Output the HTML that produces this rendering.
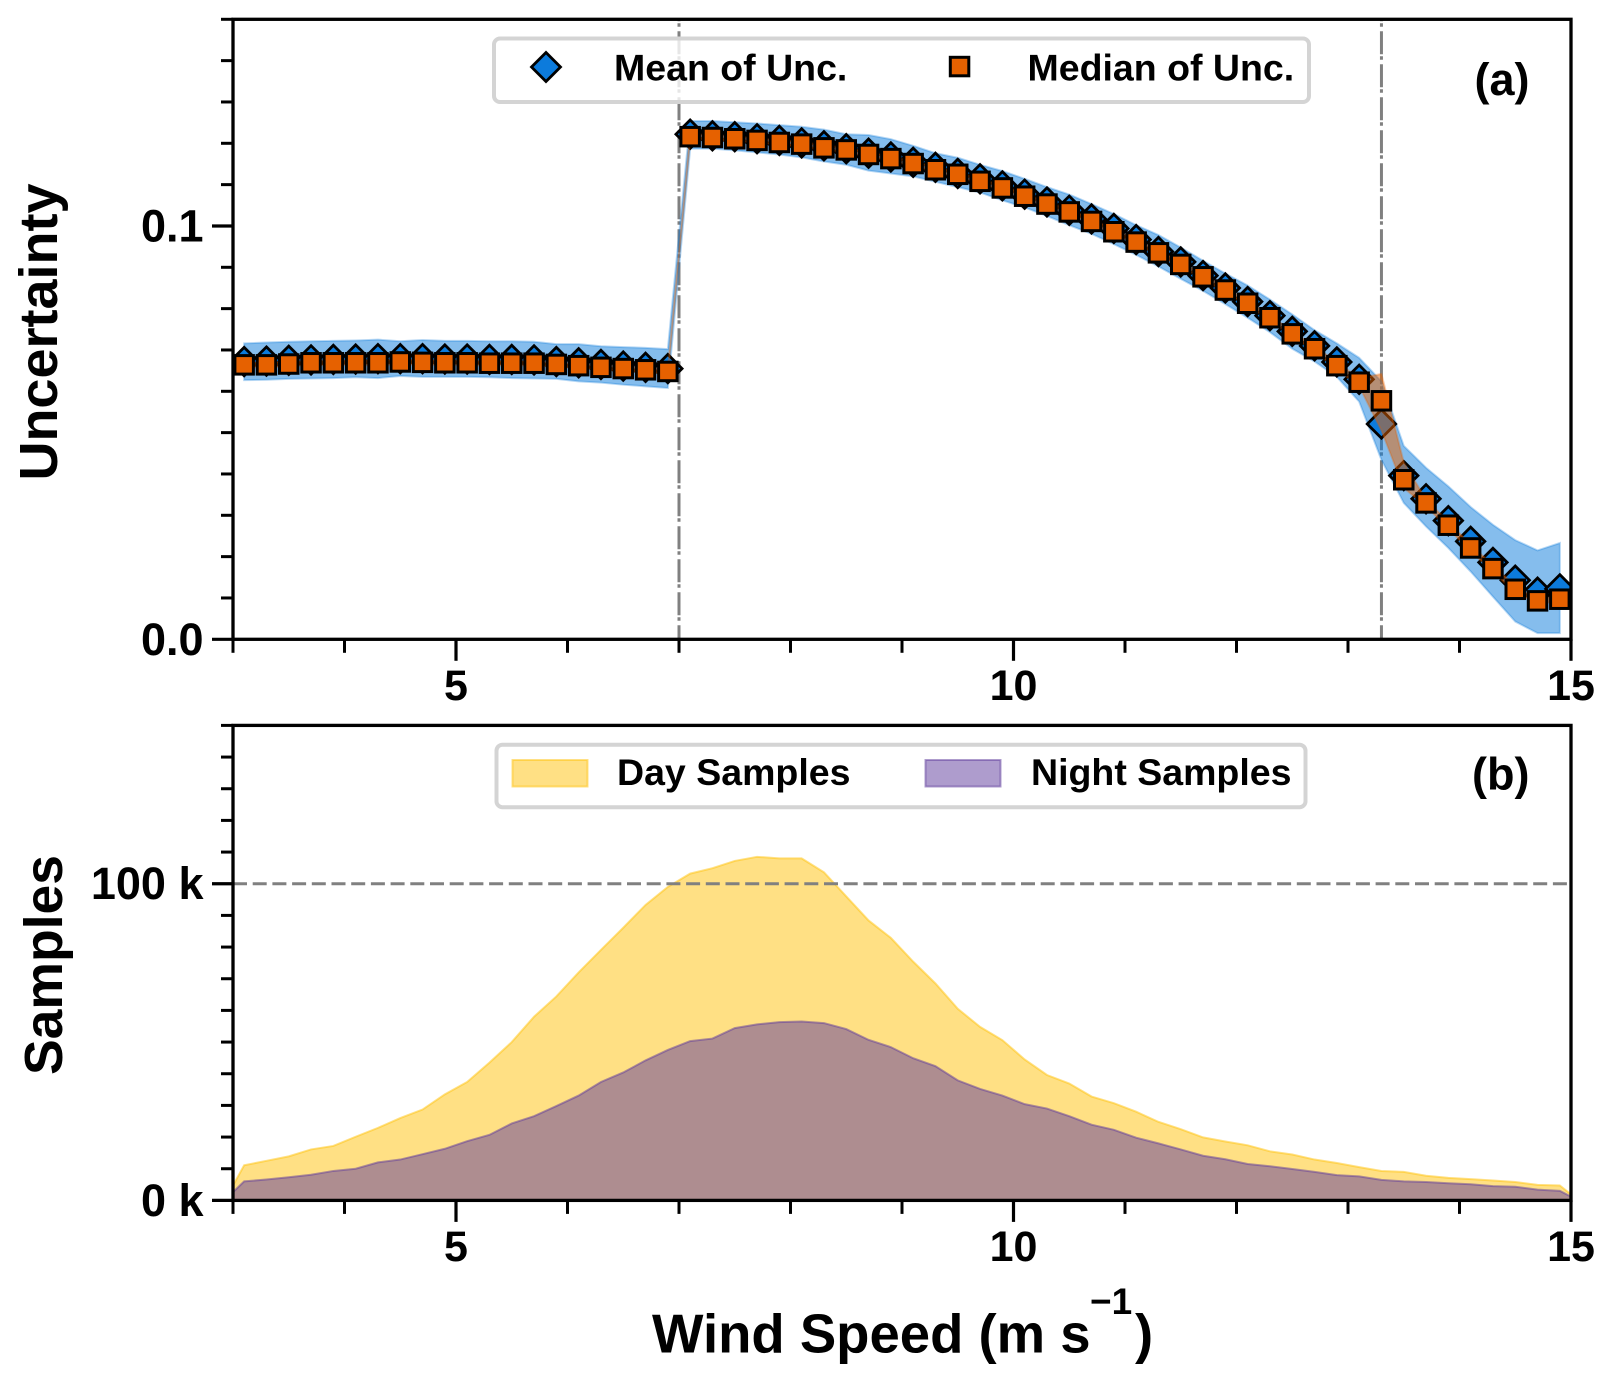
<!DOCTYPE html>
<html lang="en">
<head>
<meta charset="utf-8">
<title>Uncertainty and samples versus wind speed</title>
<style>
html,body{margin:0;padding:0;background:#fff;}
svg{display:block;font-family:"Liberation Sans",Arial,sans-serif;font-weight:bold;fill:#000;}
</style>
</head>
<body>
<svg id="fig" xmlns="http://www.w3.org/2000/svg" width="1613" height="1383" viewBox="0 0 1613 1383">
  <defs>
    <clipPath id="clipA"><rect x="233" y="19.3" width="1338" height="620"/></clipPath>
    <clipPath id="clipB"><rect x="233" y="725.4" width="1338" height="475"/></clipPath>
  </defs>
  <rect x="0" y="0" width="1613" height="1383" fill="#fff"/>

  <g>
    <g id="a-plot" clip-path="url(#clipA)"></g>
    <g>
      <rect x="494" y="38.5" width="815" height="63.5" rx="6" fill="#fff" fill-opacity="0.8" stroke="#d4d4d4" stroke-width="4"/>
      <path d="M546 52.5L560.5 67L546 81.5L531.5 67Z" fill="#0c7bdc" stroke="#000" stroke-width="2.8"/>
      <text x="614" y="80.5" font-size="37.5">Mean of Unc.</text>
      <rect x="950.3" y="57.3" width="18.5" height="18.5" fill="#e66100" stroke="#000" stroke-width="3"/>
      <text x="1027.5" y="80.5" font-size="37.5">Median of Unc.</text>
    </g>
    <text x="1529.5" y="95" font-size="45" text-anchor="end">(a)</text>
    <g id="a-axes"></g>
    <text transform="translate(57 332) rotate(-90)" text-anchor="middle" font-size="54">Uncertainty</text>
  </g>

  <g>
    <g id="b-plot" clip-path="url(#clipB)"></g>
    <g>
      <rect x="496.5" y="744.7" width="809" height="62.5" rx="6" fill="#fff" fill-opacity="0.8" stroke="#d4d4d4" stroke-width="4"/>
      <rect x="512.5" y="760" width="75" height="26.5" fill="#ffc20a" fill-opacity="0.5" stroke="#ffc20a" stroke-opacity="0.5" stroke-width="2"/>
      <text x="617" y="785" font-size="37.5">Day Samples</text>
      <rect x="925.5" y="760" width="75" height="26.5" fill="#5d3a9b" fill-opacity="0.5" stroke="#5d3a9b" stroke-opacity="0.5" stroke-width="2"/>
      <text x="1031" y="785" font-size="37.5">Night Samples</text>
    </g>
    <text x="1529.5" y="789.5" font-size="45" text-anchor="end">(b)</text>
    <g id="b-axes"></g>
    <text transform="translate(62 965) rotate(-90)" text-anchor="middle" font-size="53.5">Samples</text>
  </g>

  <g>
    <text x="652" y="1352.5" font-size="54.5">Wind Speed (m s</text>
    <text x="1090" y="1314" font-size="37">−1</text>
    <text x="1135" y="1352.5" font-size="54.5">)</text>
  </g>
</svg>

<script>
// ---------- Panel (a) data ----------
const uncWindSpeed = [3.1,3.3,3.5,3.7,3.9,4.1,4.3,4.5,4.7,4.9,5.1,5.3,5.5,5.7,5.9,6.1,6.3,6.5,6.7,6.9,
  7.1,7.3,7.5,7.7,7.9,8.1,8.3,8.5,8.7,8.9,9.1,9.3,9.5,9.7,9.9,10.1,10.3,10.5,10.7,10.9,11.1,11.3,11.5,11.7,11.9,12.1,12.3,12.5,12.7,12.9,13.1,
  13.3,13.5,13.7,13.9,14.1,14.3,14.5,14.7,14.9];
const meanUnc = [.0672,.0673,.0675,.0676,.0677,.0678,.0679,.0679,.0679,.0678,.0678,.0677,.0677,.0676,.0672,.0669,.0665,.0661,.0658,.0655,
  .1222,.1218,.1216,.1211,.1207,.1201,.1194,.1187,.1176,.1167,.1154,.1142,.1127,.1114,.1097,.1077,.1058,.1038,.1017,.0994,.0967,.0938,.0913,.0880,.0850,.0817,.0783,.0745,.0710,.0671,.0629,
  .0521,.0396,.0340,.0287,.0237,.0186,.0143,.0114,.0122];
const meanUpper = [.0716,.0718,.0720,.0721,.0722,.0723,.0725,.0721,.0724,.0722,.0722,.0721,.0721,.0720,.0714,.0714,.0709,.0707,.0705,.0702,
  .1254,.1254,.1251,.1248,.1244,.1240,.1233,.1222,.1220,.1210,.1194,.1176,.1165,.1148,.1133,.1114,.1094,.1076,.1053,.1029,.1002,.0978,.0948,.0916,.0885,.0856,.0822,.0786,.0748,.0716,.0681,
  .0624,.0468,.0415,.0370,.0320,.0277,.0240,.0215,.0233];
const meanLower = [.0627,.0628,.0630,.0631,.0632,.0634,.0632,.0637,.0635,.0635,.0635,.0634,.0632,.0631,.0630,.0624,.0621,.0616,.0612,.0608,
  .1187,.1187,.1183,.1178,.1173,.1166,.1156,.1148,.1134,.1127,.1120,.1107,.1094,.1081,.1062,.1045,.1024,.1002,.0981,.0956,.0930,.0902,.0872,.0843,.0811,.0778,.0743,.0703,.0672,.0635,.0575,
  .0434,.0330,.0273,.0221,.0164,.0103,.0043,.0015,.0015];
const medianUnc = [.0664,.0664,.0666,.0669,.0669,.0669,.0669,.0671,.0670,.0669,.0669,.0668,.0668,.0668,.0665,.0662,.0658,.0655,.0652,.0648,
  .1216,.1214,.1211,.1207,.1202,.1198,.1189,.1184,.1173,.1163,.1151,.1136,.1125,.1108,.1092,.1072,.1053,.1034,.1011,.0986,.0961,.0935,.0907,.0877,.0845,.0813,.0778,.0739,.0703,.0662,.0622,
  .0577,.0386,.0330,.0276,.0221,.0171,.0121,.0093,.0097];
const medianUpper = [.0670,.0670,.0672,.0675,.0675,.0675,.0675,.0677,.0676,.0675,.0675,.0674,.0674,.0674,.0671,.0668,.0664,.0661,.0658,.0654,
  .1222,.1220,.1217,.1213,.1208,.1204,.1195,.1190,.1179,.1169,.1157,.1142,.1131,.1114,.1098,.1078,.1059,.1040,.1017,.0992,.0967,.0941,.0913,.0883,.0851,.0819,.0784,.0745,.0709,.0670,.0632,
  .0642,.0428,.0338,.0284,.0229,.0179,.0129,.0099,.0103];
const medianLower = [.0658,.0658,.0660,.0663,.0663,.0663,.0663,.0665,.0664,.0663,.0663,.0662,.0662,.0662,.0659,.0656,.0652,.0649,.0646,.0642,
  .1210,.1208,.1205,.1201,.1196,.1192,.1183,.1178,.1167,.1157,.1145,.1130,.1119,.1102,.1086,.1066,.1047,.1028,.1005,.0980,.0955,.0929,.0901,.0871,.0839,.0807,.0772,.0733,.0697,.0654,.0612,
  .0505,.0366,.0322,.0268,.0213,.0163,.0113,.0087,.0091];
const regimeBoundaries = [7, 13.3];

// ---------- Panel (b) data ----------
const sampleWindSpeed = [3,3.1,3.3,3.5,3.7,3.9,4.1,4.3,4.5,4.7,4.9,5.1,5.3,5.5,5.7,5.9,6.1,6.3,6.5,6.7,6.9,
  7.1,7.3,7.5,7.7,7.9,8.1,8.3,8.5,8.7,8.9,9.1,9.3,9.5,9.7,9.9,10.1,10.3,10.5,10.7,10.9,11.1,11.3,11.5,11.7,11.9,12.1,12.3,12.5,12.7,12.9,13.1,
  13.3,13.5,13.7,13.9,14.1,14.3,14.5,14.7,14.9,15];
const daySamples = [4.7,11.1,12.5,13.9,16.1,17.2,20.1,22.9,26,28.7,33.5,37.4,43.5,50,58,64.4,72,79.1,86.1,93.3,99,
  103.2,104.9,107.2,108.5,108,108,103.6,96,88.4,82.9,75.4,68.5,60.5,54.8,50.6,44.5,39.6,36.9,32.8,30.7,28,24.8,22.5,19.9,18.6,17.4,15.5,14.5,12.9,11.8,10.5,
  9.3,9,7.8,7.1,6.7,6.3,5.8,4.9,4.7,1.9];
const nightSamples = [2.6,6,6.6,7.3,8.1,9.3,10,12,12.9,14.6,16.3,18.7,20.7,24.3,26.6,29.8,33.1,37.4,40.4,44.2,47.5,
  50.3,51.1,54.4,55.6,56.3,56.5,56,54.1,50.7,48.4,44.9,42.4,37.9,35.2,33.1,30.4,29,26.6,23.9,22.3,19.8,18,16.1,14.1,13,11.5,10.8,9.9,9,8,7.6,
  6.5,6,5.8,5.4,5.1,4.5,4.3,3.4,3,1.2];
const referenceSamples = [100];

// ---------- Tick data ----------
const xMajorTicks = [5,10,15];
const xMinorTicks = [3,4,6,7,8,9,11,12,13,14];
const xTickLabels = ['5','10','15'];
const uncMajorTicks = [0,0.1];
const uncTickLabels = ['0.0','0.1'];
const uncMinorTicks = [.01,.02,.03,.04,.05,.06,.07,.08,.09,.11,.12,.13,.14,.15];
const sampleMajorTicks = [0,100];
const sampleTickLabels = ['0 k','100 k'];
const sampleMinorTicks = [10,20,30,40,50,60,70,80,90,110,120,130,140,150];

// ---------- Axis functions ----------
const X_LEFT = 233, X_RIGHT = 1571;
const A_TOP = 19.3, A_BOTTOM = 639.3;
const B_TOP = 725.4, B_BOTTOM = 1200.4;
function xScale(v){ return X_LEFT + (v - 3) / 12 * (X_RIGHT - X_LEFT); }
function yUnc(v){ return A_BOTTOM - v / 0.15 * (A_BOTTOM - A_TOP); }
function ySamples(v){ return B_BOTTOM - v / 150 * (B_BOTTOM - B_TOP); }

const NS = 'http://www.w3.org/2000/svg';
function make(tag, attrs, parent){
  const el = document.createElementNS(NS, tag);
  for (const k in attrs) el.setAttribute(k, attrs[k]);
  parent.appendChild(el);
  return el;
}
function bandPath(xs, top, bottom, yf){
  let d = '';
  xs.forEach((x,i)=>{ d += (i ? 'L' : 'M') + xScale(x).toFixed(2) + ' ' + yf(top[i]).toFixed(2); });
  for (let i = xs.length - 1; i >= 0; i--) d += 'L' + xScale(xs[i]).toFixed(2) + ' ' + yf(bottom[i]).toFixed(2);
  return d + 'Z';
}
function tickMark(parent, x1, y1, x2, y2, width){
  return make('line', {x1:x1, y1:y1, x2:x2, y2:y2, stroke:'#000', 'stroke-width':width}, parent);
}

// ---------- Panel (a) ----------
const aPlot = document.getElementById('a-plot');
regimeBoundaries.forEach(b=>{
  const l = make('line', {x1:xScale(b), x2:xScale(b), y1:A_BOTTOM, y2:A_TOP, stroke:'#808080', 'stroke-width':3, 'stroke-dasharray':'23 4.5 3.5 2', 'stroke-dashoffset':'9'}, aPlot);
  
  
});
const meanBand = make('path', {d:bandPath(uncWindSpeed, meanUpper, meanLower, yUnc), fill:'#0c7bdc', 'fill-opacity':.5, stroke:'#0c7bdc', 'stroke-opacity':.3, 'stroke-width':2}, aPlot);


uncWindSpeed.forEach((x,i)=>{
  const cx = xScale(x), cy = yUnc(meanUnc[i]), h = 14.2;
  const p = make('path', {d:`M${cx} ${cy-h}L${cx+h} ${cy}L${cx} ${cy+h}L${cx-h} ${cy}Z`, fill:'#0c7bdc', stroke:'#000', 'stroke-width':2.8}, aPlot);
  
  
});
const medianBand = make('path', {d:bandPath(uncWindSpeed, medianUpper, medianLower, yUnc), fill:'#e66100', 'fill-opacity':.5, stroke:'#e66100', 'stroke-opacity':.3, 'stroke-width':2}, aPlot);


uncWindSpeed.forEach((x,i)=>{
  const cx = xScale(x), cy = yUnc(medianUnc[i]), s = 18.5;
  const r = make('rect', {x:cx-s/2, y:cy-s/2, width:s, height:s, fill:'#e66100', stroke:'#000', 'stroke-width':3}, aPlot);
  
  
});

// ---------- Panel (b) ----------
const bPlot = document.getElementById('b-plot');
const zeroSamples = sampleWindSpeed.map(()=>0);
const dayArea = make('path', {d:bandPath(sampleWindSpeed, daySamples, zeroSamples, ySamples), fill:'#ffc20a', 'fill-opacity':.5, stroke:'#ffc20a', 'stroke-opacity':.5, 'stroke-width':2}, bPlot);


const nightArea = make('path', {d:bandPath(sampleWindSpeed, nightSamples, zeroSamples, ySamples), fill:'#5d3a9b', 'fill-opacity':.5, stroke:'#5d3a9b', 'stroke-opacity':.5, 'stroke-width':2}, bPlot);


referenceSamples.forEach(v=>{
  const l = make('line', {x1:X_LEFT, x2:X_RIGHT, y1:ySamples(v), y2:ySamples(v), stroke:'#808080', 'stroke-width':3, 'stroke-dasharray':'14 5.7'}, bPlot);
  
  
});

// ---------- Axes ----------
function drawAxes(group, top, bottom, yf, yMajor, yLabels, yMinor, panel){
  xMinorTicks.forEach(v=>{
    const t = tickMark(group, xScale(v), bottom, xScale(v), bottom + 13.5, 3);
    
    
  });
  xMajorTicks.forEach((v,i)=>{
    const t = tickMark(group, xScale(v), bottom, xScale(v), bottom + 21.5, 3.2);
    
    
    const lab = make('text', {x:xScale(v), y:bottom + 60.5, 'text-anchor':'middle', 'font-size':43}, group);
    lab.textContent = xTickLabels[i];
    
    
  });
  yMinor.forEach(v=>{
    const t = tickMark(group, X_LEFT, yf(v), X_LEFT - 12, yf(v), 3);
    
    
  });
  yMajor.forEach((v,i)=>{
    const t = tickMark(group, X_LEFT, yf(v), X_LEFT - 21, yf(v), 3.2);
    
    
    const lab = make('text', {x:203.5, y:yf(v) + 15.5, 'text-anchor':'end', 'font-size':45}, group);
    lab.textContent = yLabels[i];
    
    
  });
  const frame = make('rect', {x:X_LEFT, y:top, width:X_RIGHT - X_LEFT, height:bottom - top, fill:'none', stroke:'#000', 'stroke-width':3.3}, group);
  
  
}
drawAxes(document.getElementById('a-axes'), A_TOP, A_BOTTOM, yUnc, uncMajorTicks, uncTickLabels, uncMinorTicks, 'uncertainty');
drawAxes(document.getElementById('b-axes'), B_TOP, B_BOTTOM, ySamples, sampleMajorTicks, sampleTickLabels, sampleMinorTicks, 'samples');
</script>
</body>
</html>
